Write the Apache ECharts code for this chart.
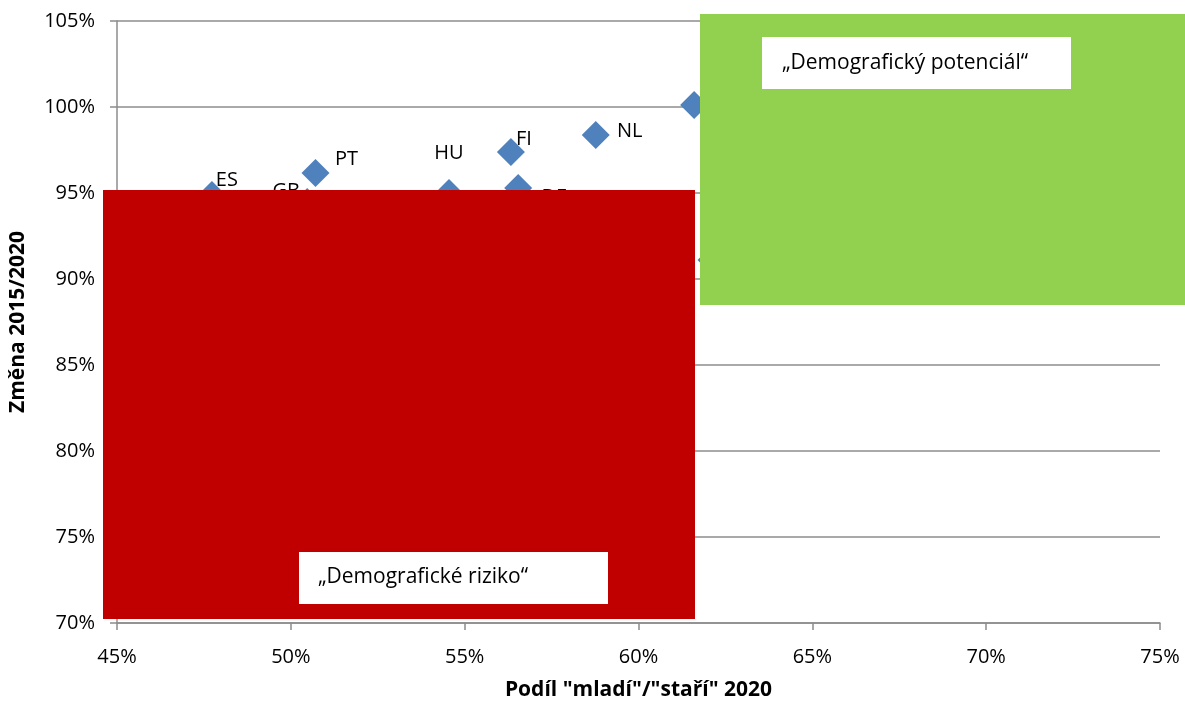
<!DOCTYPE html>
<html>
<head>
<meta charset="utf-8">
<script src="https://cdn.jsdelivr.net/npm/echarts@6/dist/echarts.min.js"></script>
<style>
  html, body { margin: 0; padding: 0; background: #fff; }
  #chart { width: 1185px; height: 702px; }
</style>
</head>
<body>
<div id="chart"></div>
<script>
// Country codes (labels under the overlay boxes are left blank)
const countries = ['ES', 'GB', 'PT', 'HU', 'FI', 'DE', 'NL', '', ''];
// Share "young"/"old" 2020, in %
const shareYoungOld = [47.73, 50.47, 50.71, 54.55, 56.33, 56.54, 58.77, 61.60, 62.10];
// Change 2015/2020, in %
const change2015to2020 = [94.88, 94.48, 96.16, 95.00, 97.38, 95.29, 98.37, 100.12, 91.10];

// Axis ranges and tick step, in %
const xTicks = { min: 45, max: 75, step: 5 };
const yTicks = { min: 70, max: 105, step: 5 };

// Where each point's label sits relative to its marker (px)
const labelOffsets = [[15, -15], [-21, -11], [31, -14], [0, -40], [13, -13], [36, 9], [34, -4], [0, 0], [0, 0]];

const FONT = '"Open Sans", Lato, sans-serif';
const GRID_COLOR = '#8c8c8c';

const points = countries.map((c, i) => ({
  name: c,
  value: [shareYoungOld[i], change2015to2020[i]],
  label: { offset: labelOffsets[i] }
}));

const chart = echarts.init(document.getElementById('chart'), null, { renderer: 'canvas' });

chart.setOption({
  animation: false,
  backgroundColor: '#ffffff',
  grid: { left: 117, right: 25, top: 21, bottom: 79, containLabel: false, outerBoundsMode: 'none' },
  xAxis: {
    type: 'value',
    min: xTicks.min, max: xTicks.max, interval: xTicks.step,
    name: 'Podíl "mladí"/"staří" 2020',
    nameLocation: 'middle',
    nameGap: 57,
    nameTextStyle: { fontFamily: FONT, fontWeight: 'bold', fontSize: 21, color: '#000' },
    axisLine: { show: true, lineStyle: { color: GRID_COLOR, width: 1.5 } },
    axisTick: { show: true, inside: false, length: 7, lineStyle: { color: GRID_COLOR, width: 1.5 } },
    axisLabel: { formatter: '{value}%', fontFamily: FONT, fontSize: 20, color: '#000', margin: 24 },
    splitLine: { show: false }
  },
  yAxis: {
    type: 'value',
    min: yTicks.min, max: yTicks.max, interval: yTicks.step,
    name: 'Změna 2015/2020',
    nameLocation: 'middle',
    nameGap: 88,
    nameRotate: 90,
    nameTextStyle: { fontFamily: FONT, fontWeight: 'bold', fontSize: 21, color: '#000' },
    axisLine: { show: true, lineStyle: { color: GRID_COLOR, width: 1.5 } },
    axisTick: { show: true, inside: false, length: 7, lineStyle: { color: GRID_COLOR, width: 1.5 } },
    axisLabel: { formatter: '{value}%', fontFamily: FONT, fontSize: 20, color: '#000', margin: 22 },
    splitLine: { show: true, lineStyle: { color: GRID_COLOR, width: 1.5 } }
  },
  series: [{
    type: 'scatter',
    symbol: 'diamond',
    symbolSize: 28,
    itemStyle: { color: '#4f81bd', opacity: 1 },
    label: {
      show: true,
      position: 'inside',
      formatter: '{b}',
      fontFamily: FONT,
      fontSize: 20,
      color: '#000'
    },
    data: points,
    z: 2
  }],
  graphic: [
    // "risk" quadrant box
    { type: 'rect', z: 100, shape: { x: 103, y: 190, width: 592, height: 429 }, style: { fill: '#c00000' } },
    // "potential" quadrant box
    { type: 'rect', z: 100, shape: { x: 700, y: 14, width: 485, height: 291 }, style: { fill: '#92d050' } },
    { type: 'rect', z: 101, shape: { x: 762, y: 37, width: 309, height: 52 }, style: { fill: '#ffffff' } },
    { type: 'text', z: 102, x: 782, y: 63,
      style: { text: '„Demografický potenciál“', fontFamily: FONT, fontSize: 21, fill: '#000', verticalAlign: 'middle', align: 'left' } },
    { type: 'rect', z: 101, shape: { x: 299, y: 552, width: 309, height: 52 }, style: { fill: '#ffffff' } },
    { type: 'text', z: 102, x: 318, y: 577,
      style: { text: '„Demografické riziko“', fontFamily: FONT, fontSize: 21, fill: '#000', verticalAlign: 'middle', align: 'left' } }
  ]
});
</script>
</body>
</html>
